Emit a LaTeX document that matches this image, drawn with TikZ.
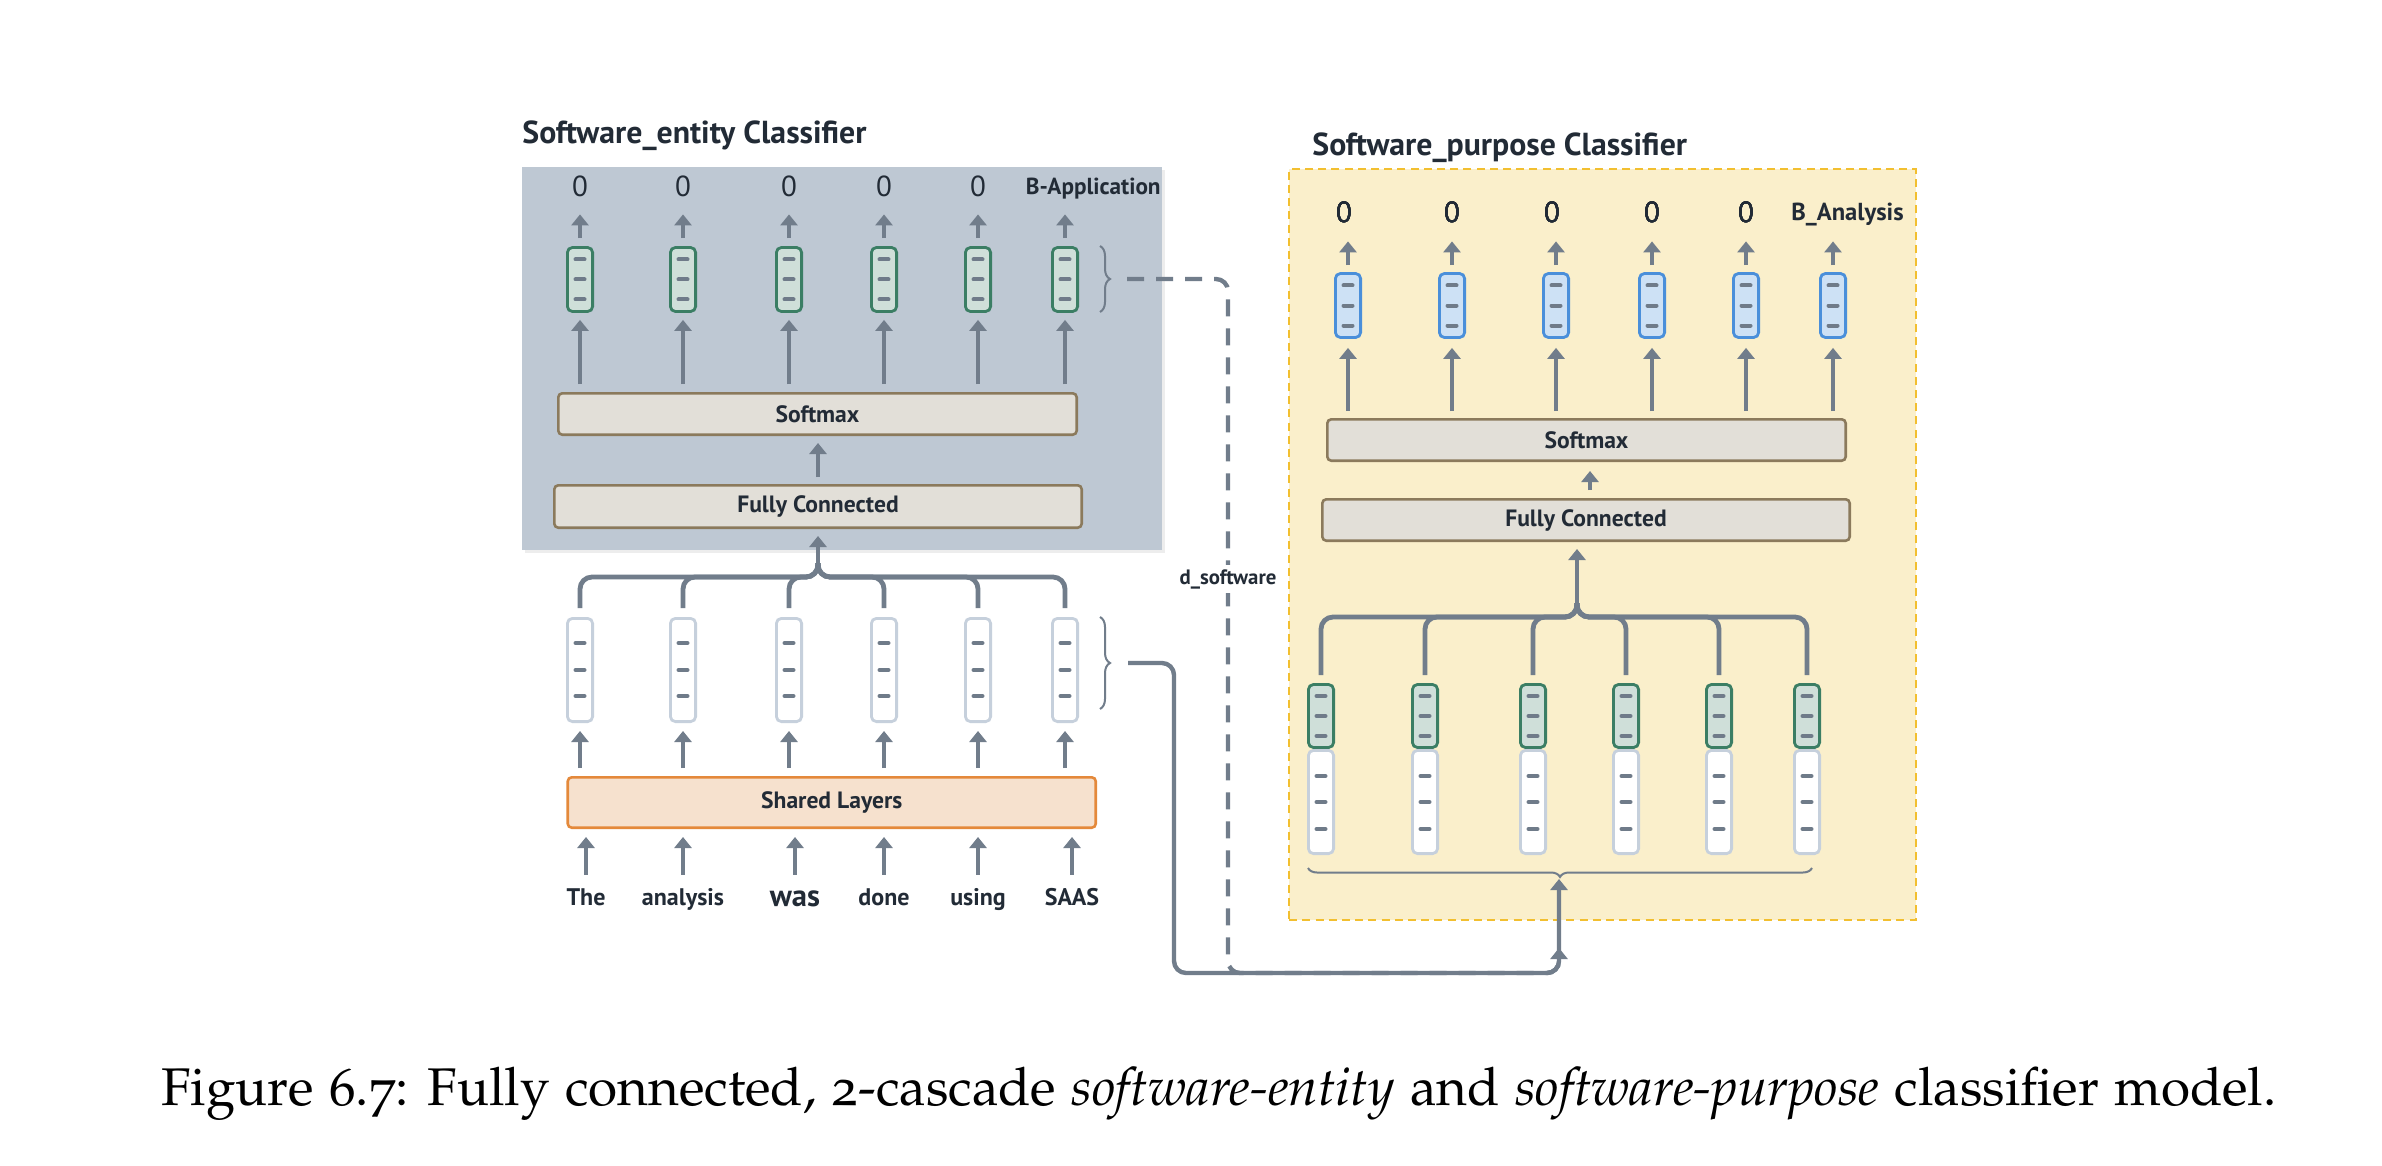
\documentclass[tikz,border=0pt]{standalone}
\usepackage[T1]{fontenc}
\usepackage{fontspec}
\newfontfamily\din{PT Sans}
\usetikzlibrary{arrows.meta,decorations.pathreplacing}
\definecolor{arrc}{HTML}{717D8B}
\definecolor{panelAc}{HTML}{BEC8D3}
\definecolor{boxfill}{HTML}{E2DFD8}
\definecolor{boxline}{HTML}{8B7A5C}
\definecolor{gfill}{HTML}{CFDFD9}
\definecolor{gline}{HTML}{3B7E64}
\definecolor{bfill}{HTML}{CDE1F5}
\definecolor{bline}{HTML}{4A8FDA}
\definecolor{wline}{HTML}{C6D0DC}
\definecolor{dashc}{HTML}{6F7B89}
\definecolor{sfill}{HTML}{F6E1CE}
\definecolor{sline}{HTML}{E4893B}
\definecolor{ypanel}{HTML}{FAEFCB}
\definecolor{yline}{HTML}{F2BF30}
\definecolor{txt}{HTML}{222B36}
\newcommand\mkvec[5]{%
  \node[#4] (#1) at (#2,#3) {};
  \foreach \d in {#5} \draw[vdash] ([shift={(-4.5,\d)}]#1.center) -- ++(9,0);
}
\newcommand\capfont{\fontencoding{T1}\fontfamily{pplj}\fontsize{26.5}{31}\selectfont}
\tikzset{
  arr/.style={draw=arrc, line width=2pt, -{Triangle[width=8.5pt,length=5.5pt]}},
  tree/.style={draw=arrc, line width=2.4pt, rounded corners=6pt},
  conn/.style={draw=arrc, line width=2.2pt, rounded corners=6pt, -{Triangle[width=8.5pt,length=5.5pt]}},
  layer/.style={draw=boxline, fill=boxfill, line width=1.3pt, rounded corners=2pt, inner sep=0pt,
    font=\din\bfseries\fontsize{11.8}{13}\selectfont, text=txt},
  vecbase/.style={line width=1.4pt, rounded corners=2.5pt, minimum width=12.6pt, inner sep=0pt},
  vecG/.style={vecbase, draw=gline, fill=gfill, minimum height=32pt},
  vecGs/.style={vecbase, draw=gline, fill=gfill, minimum height=31.5pt},
  vecB/.style={vecbase, draw=bline, fill=bfill, minimum height=32pt},
  vecW/.style={vecbase, draw=wline, fill=white, minimum height=51.6pt},
  vdash/.style={draw=dashc, line width=2pt, line cap=round},
  lab0/.style={font=\din\fontsize{14.5}{16}\selectfont, text=txt, inner sep=0pt, text height=10pt, text depth=0pt},
  labB/.style={font=\din\bfseries\fontsize{11.6}{13}\selectfont, text=txt, inner sep=0pt},
  titlest/.style={font=\din\bfseries\fontsize{15.9}{18}\selectfont, text=txt, inner sep=0pt},
  wordst/.style={font=\din\bfseries\fontsize{12}{13}\selectfont, text=txt, inner sep=0pt, text height=8pt, text depth=2pt},
  bracest/.style={draw=arrc, line width=1pt, decorate, decoration={brace, amplitude=5pt}},
}
\begin{document}
\begin{tikzpicture}[x=0.5pt,y=-0.5pt]
\useasboundingbox[fill=white] (0,0) rectangle (2382,1166);

% ---------- left panel ----------
\fill[black!7] (525,170) rectangle (1165,553);
\node[fill=panelAc, minimum width=320pt, minimum height=191.5pt, inner sep=0pt] (panelA) at (842,358.5) {};
\node[titlest, anchor=base west] (titleA) at (522,144) {Software\_entity Classifier};

\node[layer, minimum width=259.2pt, minimum height=20.7pt] (smL) at (817.5,414) {Softmax};
\node[layer, minimum width=263.7pt, minimum height=21.2pt] (fcL) at (818,506.5) {Fully Connected};
\draw[arr] ([yshift=3.5pt]fcL.north -| 818,0) -- ([yshift=-3.5pt]smL.south -| 818,0);

\foreach \x [count=\i] in {580,683,789,884,978,1065} {
  \mkvec{gL\i}{\x}{279.5}{vecG}{-20,0,20}
  \mkvec{wL\i}{\x}{670}{vecW}{-27,0,26}
}
\foreach \x [count=\i] in {580,683,789,884,978}
  \node[lab0, anchor=base] (oL\i) at (\x,197) {0};
\node[labB, anchor=base east] (oL6) at (1161,195) {B-Application};

\foreach \i in {1,...,6} {
  \draw[arr] ([yshift=4pt]gL\i.north) -- ([yshift=-8.5pt]gL\i.north |- oL1.south);
  \draw[arr] ([yshift=4pt]gL\i.south |- smL.north) -- ([yshift=-3.5pt]gL\i.south);
}

% merge tree (left)
\coordinate (jL) at (818,577);
\foreach \i in {1,...,6}
  \draw[tree] ([yshift=4.5pt]wL\i.north) -- (wL\i.north |- jL) -- (jL) -- ++(0,-14);
\draw[arr, line width=2.4pt] ([yshift=6pt]jL) -- ([yshift=-3.5pt]fcL.south -| jL);

% shared layers and words
\node[draw=sline, fill=sfill, line width=1.3pt, rounded corners=2pt, inner sep=0pt,
  minimum width=264pt, minimum height=25.2pt, font=\din\bfseries\fontsize{11.8}{13}\selectfont, text=txt]
  (sh) at (831.75,802.5) {Shared Layers};
\foreach \x/\w [count=\i] in {586/The,683/analysis,884/done,978/using,1072/SAAS}
  \node[wordst, anchor=base] (wd\i) at (\x,905) {\w};
\node[wordst, anchor=base, font=\din\bfseries\fontsize{15.3}{17}\selectfont] (wdw) at (795,906) {was};
\foreach \i in {1,...,5}
  \draw[arr] ([yshift=7pt]wd\i.north) -- ([yshift=-4pt]wd\i.north |- sh.south);
\draw[arr] ([yshift=7pt]wdw.north |- wd1.north) -- ([yshift=-4pt]wdw.north |- sh.south);
\foreach \i in {1,...,6}
  \draw[arr] ([yshift=4pt]wL\i.south |- sh.north) -- ([yshift=-4pt]wL\i.south);

% braces on the left
\draw[bracest] (1100,246) -- (1100,312);
\draw[bracest] (1100,617) -- (1100,709);
\coordinate (bU) at (1127,279);
\coordinate (bD) at (1128,663);

% ---------- right panel ----------
\node[fill=ypanel, draw=yline, line width=1.2pt, dash pattern=on 4pt off 2.6pt,
  minimum width=313.3pt, minimum height=375.3pt, inner sep=0pt] (panelB) at (1602.5,544.5) {};
\node[titlest, anchor=base west] (titleB) at (1312,156) {Software\_purpose Classifier};

\node[layer, minimum width=259.2pt, minimum height=20.7pt] (smR) at (1586.5,440) {Softmax};
\node[layer, minimum width=263.7pt, minimum height=20.7pt] (fcR) at (1586,520) {Fully Connected};
\draw[arr] ([yshift=4pt]fcR.north -| 1590,0) -- ([yshift=-4.5pt]smR.south -| 1590,0);

\foreach \x [count=\i] in {1348,1452,1556,1652,1746,1833}
  \mkvec{bR\i}{\x}{305.5}{vecB}{-20,0,20}
\foreach \x [count=\i] in {1344,1452,1552,1652,1746}
  \node[lab0, anchor=base] (oR\i) at (\x,223) {0};
\node[labB, anchor=base west, font=\din\bfseries\fontsize{12.3}{14}\selectfont] (oR6) at (1791,221) {B\_Analysis};
\foreach \i in {1,...,6} {
  \draw[arr] ([yshift=3.5pt]bR\i.north) -- ([yshift=-9pt]bR\i.north |- oR1.south);
  \draw[arr] ([yshift=3.5pt]bR\i.south |- smR.north) -- ([yshift=-4.5pt]bR\i.south);
}

\foreach \x [count=\i] in {1321,1425,1533,1626,1719,1807} {
  \mkvec{wR\i}{\x}{802}{vecW}{-26,0,27}
  \mkvec{gR\i}{\x}{716}{vecGs}{-20,0,20}
}
\coordinate (jR) at (1577,617);
\foreach \i in {1,...,6}
  \draw[tree] ([yshift=4pt]gR\i.north) -- (gR\i.north |- jR) -- (jR) -- ++(0,-14);
\draw[arr, line width=2.4pt] ([yshift=6pt]jR) -- ([yshift=-3.5pt]fcR.south -| jR);

\draw[bracest, decoration={brace, amplitude=4.5pt}] (1812,868) -- (1308,868);
\coordinate (bR) at (1559,879);
\coordinate (bRd) at (1559,948);

% ---------- connectors ----------
\draw[conn] (bD) -- (1174,663) -- (1174,973) -- (1559,973) -- (bR);
\draw[conn, dash pattern=on 8.5pt off 6pt] (bU) -- (1228,279) -- (1228,973) -- (1559,973) -- (bRd);
\node[fill=white, inner sep=2pt, font=\din\bfseries\fontsize{10.4}{12}\selectfont, text=txt] (dsw) at (1228,579) {d\_software};

% ---------- caption ----------
\node[anchor=base, inner sep=0pt, font=\capfont] (cap) at (1219,1105)
  {Figure 6.7: Fully connected, 2-cascade \textit{software-entity} and \textit{software-purpose} classifier model.};
\end{tikzpicture}
\end{document}
